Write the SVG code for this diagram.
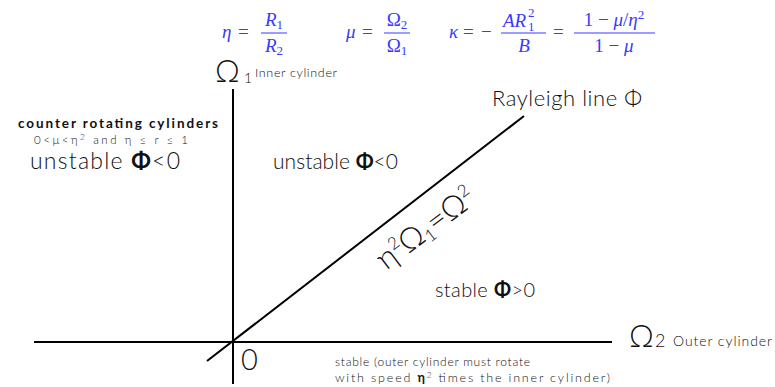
<svg xmlns="http://www.w3.org/2000/svg" width="775" height="387" viewBox="0 0 775 387">
<style>
.m{font-family:"Liberation Serif","DejaVu Serif",serif;font-size:19px;fill:#3a3aff}
.i{font-style:italic}
.s{font-size:13px}
.bar{stroke:#3a3aff;stroke-width:1}
.t{font-family:Lato,"Open Sans","Liberation Sans",sans-serif;fill:#111;font-weight:300}
.b{font-weight:bold}
.ax{stroke:#000;stroke-width:2;fill:none}
</style>
<rect width="775" height="387" fill="#fff"/>
<g id="formulas">
  <g id="eta">
    <text class="m i" x="222" y="38">η</text>
    <text class="m" x="238" y="38">=</text>
    <text class="m" x="274" y="26" text-anchor="middle"><tspan class="i">R</tspan><tspan class="s" dy="3">1</tspan></text>
    <line class="bar" x1="261" y1="33" x2="287" y2="33"/>
    <text class="m" x="274" y="52" text-anchor="middle"><tspan class="i">R</tspan><tspan class="s" dy="3">2</tspan></text>
  </g>
  <g id="mu">
    <text class="m i" x="346" y="38">μ</text>
    <text class="m" x="362" y="38">=</text>
    <text class="m" x="397" y="26" text-anchor="middle">Ω<tspan class="s" dy="3">2</tspan></text>
    <line class="bar" x1="384" y1="33" x2="410" y2="33"/>
    <text class="m" x="397" y="52" text-anchor="middle">Ω<tspan class="s" dy="3">1</tspan></text>
  </g>
  <g id="kappa">
    <text class="m i" x="449" y="38">κ</text>
    <text class="m" x="463" y="38">=</text>
    <text class="m" x="481" y="38">−</text>
    <text class="m i" x="503" y="27">AR</text>
    <text class="m s" x="528" y="31">1</text>
    <text class="m s" x="528" y="17">2</text>
    <line class="bar" x1="501" y1="33" x2="546" y2="33"/>
    <text class="m i" x="524" y="52" text-anchor="middle">B</text>
    <text class="m" x="553" y="38">=</text>
    <text class="m" x="614" y="26" text-anchor="middle">1 − <tspan class="i">μ</tspan>/<tspan class="i">η</tspan><tspan class="s" dy="-7">2</tspan></text>
    <line class="bar" x1="574" y1="33" x2="655" y2="33"/>
    <text class="m" x="614" y="52" text-anchor="middle">1 − <tspan class="i">μ</tspan></text>
  </g>
</g>
<g id="connectors">
  <line id="axis-inner" class="ax" x1="233" y1="89" x2="233" y2="384"/>
  <line id="axis-outer" class="ax" x1="34" y1="342" x2="612" y2="342"/>
  <line id="rayleigh" class="ax" stroke-width="1.6" x1="207" y1="361" x2="524" y2="116"/>
</g>
<g id="label-inner">
  <text class="t" x="215" y="82" font-size="31" font-weight="normal">Ω</text>
  <text class="t" x="244" y="83" font-size="14">1</text>
  <text class="t" x="255" y="77" font-size="12.5" textLength="82">Inner cylinder</text>
</g>
<g id="label-outer">
  <text class="t" x="629" y="347" font-size="31" font-weight="normal">Ω</text>
  <text class="t" x="655" y="347" font-size="18">2</text>
  <text class="t" x="673" y="346" font-size="14" textLength="99">Outer cylinder</text>
</g>
<g id="origin"><text class="t" x="241" y="370" font-size="29">0</text></g>
<g id="rayleigh-label"><text class="t" x="492" y="106" font-size="22" font-weight="normal" textLength="150">Rayleigh line Φ</text></g>
<g id="counter">
  <text class="t b" x="18" y="128" font-size="13.5" textLength="200">counter rotating cylinders</text>
  <text class="t" x="34" y="144" font-size="11.5" textLength="154">0&lt;μ&lt;η<tspan font-size="8.5" dy="-4">2</tspan><tspan dy="4"> and η ≤ r ≤ 1</tspan></text>
  <text class="t" x="30" y="169" font-size="23" textLength="150">unstable <tspan class="b">Φ</tspan>&lt;0</text>
</g>
<g id="unstable"><text class="t" x="273" y="169" font-size="21" textLength="125">unstable <tspan class="b">Φ</tspan>&lt;0</text></g>
<g id="stable"><text class="t" x="435" y="297" font-size="20" textLength="100">stable <tspan class="b">Φ</tspan>&gt;0</text></g>
<g id="rayleigh-eq">
  <text class="t" x="0" y="0" font-size="31" transform="translate(386 271) rotate(-37)">η<tspan font-size="17" dy="-12">2</tspan><tspan dy="12">Ω</tspan><tspan font-size="17" dy="4">1</tspan><tspan dy="-4">=Ω</tspan><tspan font-size="17" dy="-12">2</tspan></text>
</g>
<g id="stable-note">
  <text class="t" x="335" y="366" font-size="12" textLength="195">stable (outer cylinder must rotate</text>
  <text class="t" x="335" y="382" font-size="12.5" textLength="275">with speed <tspan class="b">η</tspan><tspan font-size="8.5" dy="-4">2</tspan><tspan dy="4"> times the inner cylinder)</tspan></text>
</g>
</svg>
